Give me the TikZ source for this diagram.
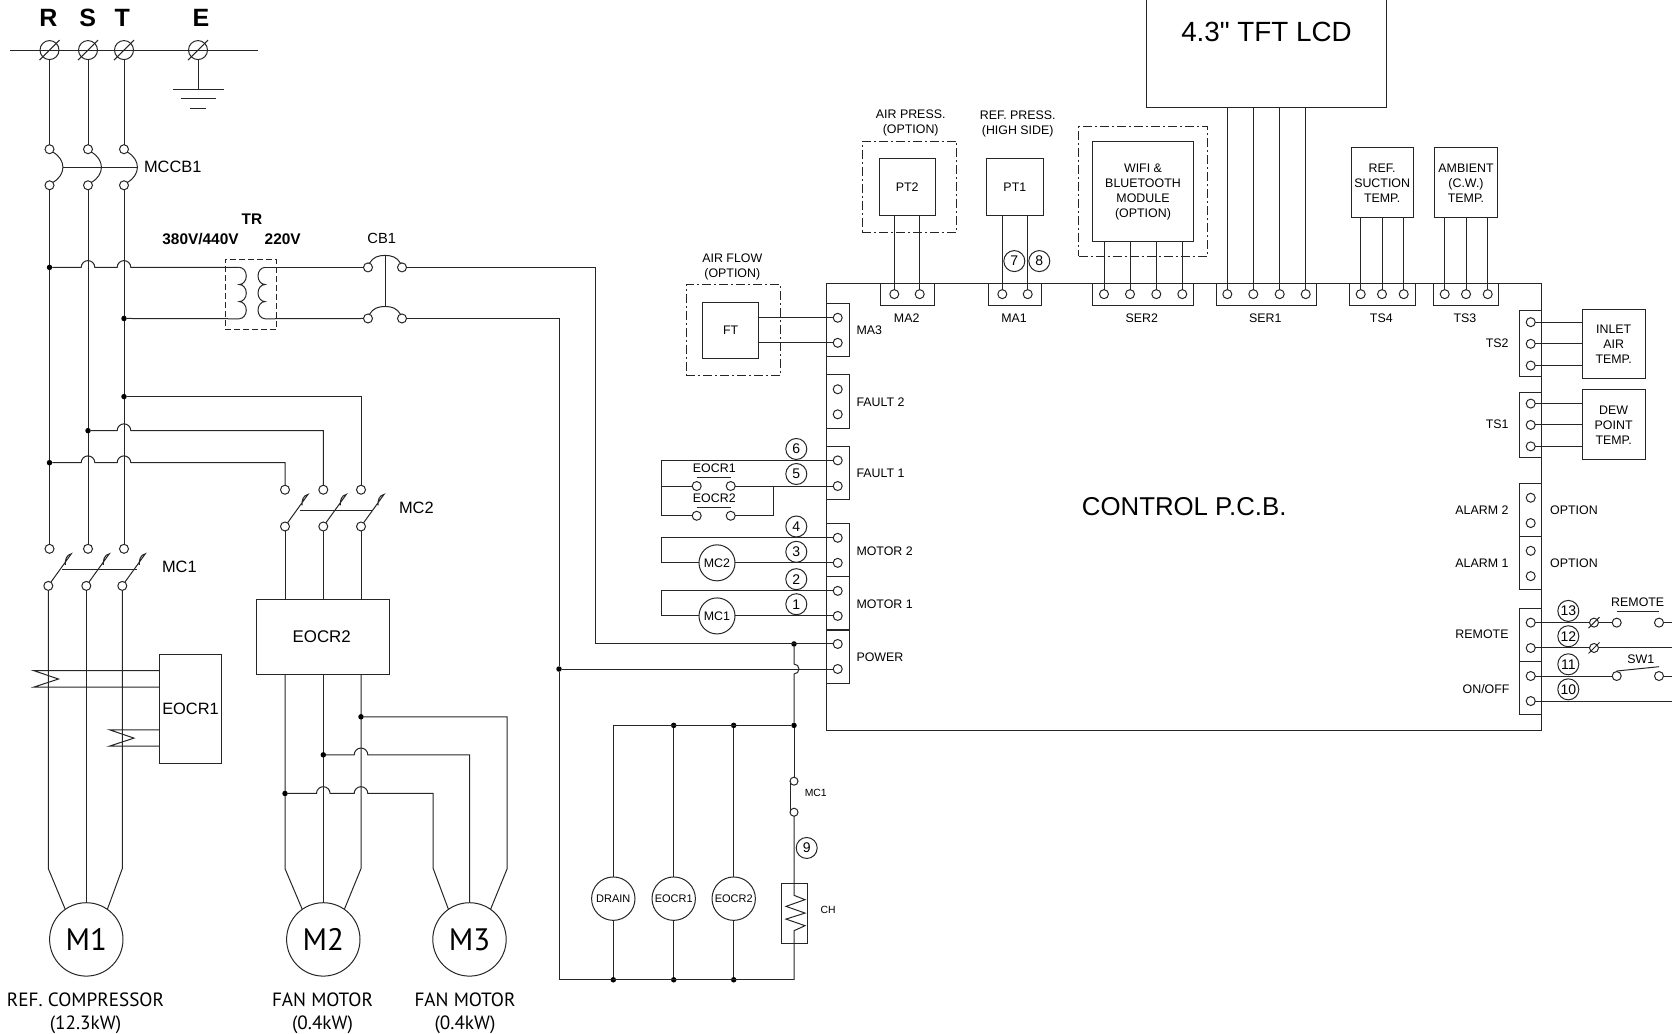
\documentclass[tikz,border=0pt]{standalone}
\usepackage{fontspec}
\setmainfont{Liberation Sans}
\newfontfamily\motorfont{PT Sans}
\newfontfamily\lcdfont{Liberation Sans}
\usepackage{tikz}
\usetikzlibrary{calc}
\newcommand{\hopover}[2]{-- ([xshift=-6.8pt]#1 |- #2) arc[start angle=180,end angle=0,radius=6.8pt]}
\newcommand{\slashat}[2]{\draw ([shift={(-#2,#2)}]#1.center) -- ([shift={(#2,-#2)}]#1.center);}
\newcommand{\blade}[1]{\draw (#1.55) -- ([shift={(23,-32)}]#1.center) to[out=190,in=95] ([shift={(17,-21)}]#1.center);}

\begin{document}
\begin{tikzpicture}[
    x=1pt, y=-1.0015pt, line width=1pt, draw=black!85,
    lab/.style={inner sep=0, align=center, font=\fontsize{12.4}{15}\selectfont},
    tag/.style={lab, yshift=-0.7pt},
    biglab/.style={inner sep=0, font=\fontsize{16.4}{18}\selectfont},
    smalllab/.style={inner sep=0, font=\fontsize{10.4}{12}\selectfont},
    boldlab/.style={inner sep=0, font=\fontsize{15.4}{18}\selectfont\bfseries},
    phase/.style={inner sep=0, font=\fontsize{25}{28}\selectfont\bfseries},
    motorlab/.style={inner sep=0, align=center, font=\motorfont\fontsize{19.2}{23.4}\selectfont},
    box/.style={rectangle, draw, inner sep=0, outer sep=0, align=center},
    optbox/.style={box, dash pattern=on 9pt off 3pt on 2pt off 3pt},
    block/.style={box, minimum width=22.4pt, minimum height=53.2pt},
    topblock/.style={box, minimum height=22.3pt},
    term/.style={circle, draw, inner sep=0, outer sep=0, minimum size=9pt},
    mainterm/.style={circle, draw, inner sep=0, outer sep=0, minimum size=19pt},
    dot/.style={circle, fill=black, inner sep=0, outer sep=0, minimum size=5.5pt},
    num/.style={circle, draw, inner sep=0, outer sep=0, minimum size=21pt, font=\fontsize{14}{14}\selectfont},
    coil/.style={circle, draw, inner sep=0, outer sep=0, minimum size=36pt, font=\fontsize{12.4}{14}\selectfont},
    aux/.style={circle, draw, inner sep=0, outer sep=0, minimum size=43.4pt, font=\fontsize{11}{13}\selectfont},
    motor/.style={circle, draw, inner sep=0, outer sep=0, minimum size=73.4pt, font=\motorfont\fontsize{31}{33}\selectfont}
]
    \useasboundingbox (0,0) rectangle (1672,1032.45);

    % Supply
    \node[phase] (labR) at (48.3,18.3) {R};
    \node[phase] (labS) at (87.7,18.3) {S};
    \node[phase] (labT) at (122.3,18.3) {T};
    \node[phase] (labE) at (201,18.3) {E};
    \coordinate (busL) at (10,50);
    \coordinate (busR) at (258,50);
    \node[mainterm] (tR) at (49.5,50) {};
    \node[mainterm] (tS) at (88,50) {};
    \node[mainterm] (tT) at (124,50) {};
    \node[mainterm] (tE) at (198,50) {};
    \draw (busL) -- (busR);
    \slashat{tR}{10} \slashat{tS}{10} \slashat{tT}{10} \slashat{tE}{10}
    \coordinate (gndA) at (198,89);
    \coordinate (gndB) at (198,98.5);
    \coordinate (gndC) at (198,108);
    \draw (tE) -- (gndA);
    \draw ([xshift=-25.5pt]gndA) -- ([xshift=25.5pt]gndA);
    \draw ([xshift=-17.5pt]gndB) -- ([xshift=17.5pt]gndB);
    \draw ([xshift=-8pt]gndC) -- ([xshift=8pt]gndC);

    % MCCB1
    \node[term] (mccbRu) at (49.5,149) {};
    \node[term] (mccbSu) at (88,149) {};
    \node[term] (mccbTu) at (124,149) {};
    \node[term] (mccbRl) at (49.5,185) {};
    \node[term] (mccbSl) at (88,185) {};
    \node[term] (mccbTl) at (124,185) {};
    \coordinate (mccbA) at (62.5,167);
    \coordinate (mccbB) at (137,167);
    \node[biglab, anchor=west] (labMCCB) at (143.5,166.7) {MCCB1};
    \draw (tR) -- (mccbRu);
    \draw (tS) -- (mccbSu);
    \draw (tT) -- (mccbTu);
    \draw (mccbRu.-40) to[out=-30,in=30,looseness=1.3] (mccbRl.40);
    \draw (mccbSu.-40) to[out=-30,in=30,looseness=1.3] (mccbSl.40);
    \draw (mccbTu.-40) to[out=-30,in=30,looseness=1.3] (mccbTl.40);
    \draw (mccbA) -- (mccbB);

    % MC1
    \node[term] (mc1Ru) at (49.5,548) {};
    \node[term] (mc1Su) at (88,548) {};
    \node[term] (mc1Tu) at (124,548) {};
    \node[term] (mc1Rl) at (48.3,585) {};
    \node[term] (mc1Sl) at (86.3,585) {};
    \node[term] (mc1Tl) at (122.3,585) {};
    \coordinate (mc1A) at (62,569);
    \coordinate (mc1B) at (137,569);
    \node[biglab, anchor=west] (labMC1) at (161.5,566) {MC1};
    \draw (mccbRl) -- (mc1Ru);
    \draw (mccbSl) -- (mc1Su);
    \draw (mccbTl) -- (mc1Tu);
    \blade{mc1Rl} \blade{mc1Sl} \blade{mc1Tl}
    \draw (mc1A) -- (mc1B);

    % Transformer and CB1
    \node[dot] (jA) at (49.5,267) {};
    \node[dot] (jB) at (124,318) {};
    \node[boldlab] (labTR) at (252,219) {TR};
    \node[boldlab] (labHV) at (200.5,238.7) {380V/440V};
    \node[boldlab] (labLV) at (282.7,238.7) {220V};
    \node[box, dash pattern=on 6pt off 3pt, minimum width=51.5pt, minimum height=70pt] (trafo) at (250.75,294) {};
    \coordinate (coilA) at (239.3,267);
    \coordinate (coilB) at (239.3,318.3);
    \coordinate (coilC) at (265,267);
    \coordinate (coilD) at (265,318.3);
    \draw (jA) \hopover{tS}{jA} \hopover{tT}{jA} -- (coilA);
    \draw (jB) -- (coilB);
    \draw (coilA) arc[start angle=90,end angle=-90,x radius=7pt,y radius=8.55pt]
        arc[start angle=90,end angle=-90,x radius=7pt,y radius=8.55pt]
        arc[start angle=90,end angle=-90,x radius=7pt,y radius=8.55pt];
    \draw (coilC) arc[start angle=90,end angle=270,x radius=7pt,y radius=8.55pt]
        arc[start angle=90,end angle=270,x radius=7pt,y radius=8.55pt]
        arc[start angle=90,end angle=270,x radius=7pt,y radius=8.55pt];
    \node[term] (cbAl) at (368,267) {};
    \node[term] (cbAr) at (402,267) {};
    \node[term] (cbBl) at (368,318) {};
    \node[term] (cbBr) at (402,318) {};
    \coordinate (cbTop) at (385,255);
    \coordinate (cbBot) at (385,306);
    \node[lab, font=\fontsize{14.7}{16}\selectfont] (labCB) at (381.7,238.4) {CB1};
    \draw (coilC) -- (cbAl);
    \draw (coilD) -- (cbBl);
    \draw (cbAl.70) to[out=60,in=180] (cbTop) to[out=0,in=120] (cbAr.110);
    \draw (cbBl.70) to[out=60,in=180] (cbBot) to[out=0,in=120] (cbBr.110);
    \draw (cbTop) -- (cbBot);

    % MC2 and EOCR2
    \node[term] (mc2Ru) at (285,489) {};
    \node[term] (mc2Su) at (323.3,489) {};
    \node[term] (mc2Tu) at (361,489) {};
    \node[term] (mc2Rl) at (285,525.7) {};
    \node[term] (mc2Sl) at (323.3,525.7) {};
    \node[term] (mc2Tl) at (361,525.7) {};
    \coordinate (mc2A) at (300,509.7);
    \coordinate (mc2B) at (373,509.7);
    \node[biglab, anchor=west] (labMC2) at (398.5,507) {MC2};
    \node[box, biglab, font=\fontsize{16.9}{18}\selectfont, draw, minimum width=133pt, minimum height=75.3pt] (EOCRb) at (323.2,635.7) {\raisebox{-2.6pt}{\hspace*{-3pt}EOCR2}};
    \node[dot] (jD) at (124,396) {};
    \node[dot] (jE) at (88,430) {};
    \node[dot] (jF) at (49.5,462) {};
    \draw (jD) -| (mc2Tu);
    \draw (jE) \hopover{tT}{jE} -| (mc2Su);
    \draw (jF) \hopover{tS}{jF} \hopover{tT}{jF} -| (mc2Ru);
    \blade{mc2Rl} \blade{mc2Sl} \blade{mc2Tl}
    \draw (mc2A) -- (mc2B);
    \draw (mc2Rl) -- (mc2Rl |- EOCRb.north);
    \draw (mc2Sl) -- (mc2Sl |- EOCRb.north);
    \draw (mc2Tl) -- (mc2Tl |- EOCRb.north);

    % EOCR1
    \node[box, biglab, draw, minimum width=62.4pt, minimum height=108.7pt] (EOCRa) at (190.5,707.7) {EOCR1};
    \coordinate (ctAa) at (34,669.7);
    \coordinate (ctAb) at (58.5,678);
    \coordinate (ctAc) at (34,686);
    \coordinate (ctBa) at (109.5,728.7);
    \coordinate (ctBb) at (134,737);
    \coordinate (ctBc) at (109.5,745);
    \draw (EOCRa.west |- ctAa) -- (ctAa) -- (ctAb) -- (ctAc) -- (EOCRa.west |- ctAc);
    \draw (EOCRa.west |- ctBa) -- (ctBa) -- (ctBb) -- (ctBc) -- (EOCRa.west |- ctBc);

    % Motors
    \node[motor] (Mone) at (86.3,938) {M1};
    \node[motor] (Mtwo) at (323.3,938) {M2};
    \node[motor] (Mthree) at (469.5,938) {M3};
    \node[motorlab] (capA) at (85.5,1012) {REF. COMPRESSOR\\(12.3kW)};
    \node[motorlab] (capB) at (322.5,1012) {FAN MOTOR\\(0.4kW)};
    \node[motorlab] (capC) at (465,1012) {FAN MOTOR\\(0.4kW)};
    \coordinate (moneL) at (48.3,867.3);
    \coordinate (moneR) at (122.3,867.3);
    \coordinate (mtwoL) at (285,867.3);
    \coordinate (mtwoR) at (361,867.3);
    \coordinate (mthreeL) at (433.2,867.3);
    \coordinate (mthreeR) at (507.2,867.3);
    \draw (mc1Rl) -- (moneL) -- (Mone.125);
    \draw (mc1Sl) -- (Mone);
    \draw (mc1Tl) -- (moneR) -- (Mone.55);
    \draw (mc2Rl |- EOCRb.south) -- (mtwoL) -- (Mtwo.125);
    \draw (mc2Sl |- EOCRb.south) -- (Mtwo);
    \draw (mc2Tl |- EOCRb.south) -- (mtwoR) -- (Mtwo.55);
    \node[dot] (jG) at (361,715.7) {};
    \node[dot] (jH) at (323.3,753.7) {};
    \node[dot] (jI) at (285,792.3) {};
    \draw (jG) -| (mthreeR) -- (Mthree.55);
    \draw (jH) \hopover{mc2Tl}{jH} -| (Mthree);
    \draw (jI) \hopover{mc2Sl}{jI} \hopover{mc2Tl}{jI} -| (mthreeL) -- (Mthree.125);

    % Control board
    \node[box, minimum width=715pt, minimum height=447pt, font=\fontsize{25.8}{28}\selectfont] (pcb) at (1184.2,506.2) {CONTROL P.C.B.};
    \node[box, minimum width=240.4pt, minimum height=151pt, font=\lcdfont\fontsize{27.8}{30}\selectfont] (lcd) at (1266.5,31.5) {4.3" TFT LCD};

    % Left connectors
    \node[block] (MAc) at (837.85,329.35) {};
    \node[block] (faultB) at (837.85,400.8) {};
    \node[block] (faultA) at (837.85,472.2) {};
    \node[block] (motorB) at (837.85,549.2) {};
    \node[block] (motorA) at (837.85,602.35) {};
    \node[block] (power) at (837.85,655.65) {};
    \node[tag, anchor=west] (labMAc) at (856,329) {MA3};
    \node[tag, anchor=west] (labFaultB) at (856,400.7) {FAULT 2};
    \node[tag, anchor=west] (labFaultA) at (856,472) {FAULT 1};
    \node[tag, anchor=west] (labMotorB) at (856,549.7) {MOTOR 2};
    \node[tag, anchor=west] (labMotorA) at (856,602.3) {MOTOR 1};
    \node[tag, anchor=west] (labPower) at (856,655.7) {POWER};
    \node[term] (tMAca) at (837.7,317.3) {};
    \node[term] (tMAcb) at (837.7,342.3) {};
    \node[term] (tFaultBa) at (837.7,388.7) {};
    \node[term] (tFaultBb) at (837.7,413.7) {};
    \node[term] (tFaultAa) at (837.7,459.7) {};
    \node[term] (tFaultAb) at (837.7,485.3) {};
    \node[term] (tMotorBa) at (837.7,537) {};
    \node[term] (tMotorBb) at (837.7,562) {};
    \node[term] (tMotorAa) at (837.7,590) {};
    \node[term] (tMotorAb) at (837.7,615) {};
    \node[term] (tPowerA) at (837.7,643) {};
    \node[term] (tPowerB) at (837.7,668) {};

    % Air flow
    \node[optbox, minimum width=94pt, minimum height=91.6pt] (ftOpt) at (733,329.5) {};
    \node[box, lab, draw, minimum width=56pt, minimum height=56pt] (FT) at (730.7,329.7) {FT};
    \node[lab] (labFT) at (732.3,266.7) {AIR FLOW\\(OPTION)};
    \draw (FT.east |- tMAca) -- (tMAca);
    \draw (FT.east |- tMAcb) -- (tMAcb);

    % Fault loop
    \node[num] (nSix) at (796.3,448.3) {6};
    \node[num] (nFive) at (796.3,473.3) {5};
    \node[term] (cEaL) at (696.7,485.3) {};
    \node[term] (cEaR) at (730.7,485.3) {};
    \node[term] (cEbL) at (696.7,515) {};
    \node[term] (cEbR) at (730.7,515) {};
    \node[lab] (labEa) at (714.3,468) {EOCR1};
    \node[lab] (labEb) at (714.3,497.7) {EOCR2};
    \coordinate (faultC) at (661.7,515);
    \coordinate (faultD) at (773.7,485.3);
    \draw (tFaultAa) -| (faultC) -- (cEbL);
    \draw (faultC |- tFaultAb) -- (cEaL);
    \draw (cEaR) -- (tFaultAb);
    \draw (cEbR) -| (faultD);
    \draw (cEaL.north |- 0,476.3) -- (cEaR.north |- 0,476.3);
    \draw (cEbL.north |- 0,506.3) -- (cEbR.north |- 0,506.3);

    % Motor contactor coils
    \node[num] (nFour) at (796.3,525.7) {4};
    \node[num] (nThree) at (796.3,551) {3};
    \node[num] (nTwo) at (796.3,578.3) {2};
    \node[num] (nOne) at (796.3,603.3) {1};
    \node[coil] (coilMCb) at (717,562) {MC2};
    \node[coil] (coilMCa) at (717,615) {MC1};
    \coordinate (motorC) at (661.7,562);
    \coordinate (motorD) at (661.7,615);
    \draw (tMotorBa) -| (motorC) -- (coilMCb);
    \draw (coilMCb) -- (tMotorBb);
    \draw (tMotorAa) -| (motorD) -- (coilMCa);
    \draw (coilMCa) -- (tMotorAb);

    % Power feed
    \coordinate (pwrC) at (595.6,643);
    \node[dot] (jPa) at (794,643) {};
    \node[dot] (jPb) at (559,668) {};
    \node[dot] (jBus) at (794,724.3) {};
    \draw (cbAr) -| (pwrC) -- (tPowerA);
    \draw (cbBr) -| (jPb) -- (tPowerB);
    \draw (jPa) -- ([yshift=5pt]jPa |- tPowerB) arc[start angle=90,end angle=-90,radius=5pt] -- (jBus);

    % Auxiliary circuit
    \coordinate (auxC) at (613.3,724.3);
    \coordinate (botR) at (794,978.3);
    \node[dot] (jBa) at (673.7,724.3) {};
    \node[dot] (jBb) at (733.7,724.3) {};
    \node[dot] (jLa) at (613.3,978.3) {};
    \node[dot] (jLb) at (673.7,978.3) {};
    \node[dot] (jLc) at (733.7,978.3) {};
    \node[aux] (drain) at (613.3,897.3) {DRAIN};
    \node[aux] (auxA) at (673.7,897.3) {EOCR1};
    \node[aux] (auxB) at (733.7,897.3) {EOCR2};
    \node[term, minimum size=8pt] (cMCu) at (794,780) {};
    \node[term, minimum size=8pt] (cMCl) at (794,811) {};
    \node[smalllab, anchor=west] (labMCc) at (804.3,792) {MC1};
    \node[num] (nNine) at (806.7,846.7) {9};
    \node[box, minimum width=26.3pt, minimum height=60.6pt] (CH) at (794.15,912) {};
    \node[smalllab, anchor=west] (labCH) at (820,909) {CH};
    \coordinate (chA) at (794,894);
    \coordinate (chB) at (805,898.3);
    \coordinate (chC) at (786,905);
    \coordinate (chD) at (805,911.7);
    \coordinate (chE) at (786,917.7);
    \coordinate (chF) at (805,924.3);
    \coordinate (chG) at (794,929.3);
    \draw (jBus) -- (auxC) -- (drain);
    \draw (jBa) -- (auxA);
    \draw (jBb) -- (auxB);
    \draw (drain) -- (jLa);
    \draw (auxA) -- (jLb);
    \draw (auxB) -- (jLc);
    \draw (jPb) |- (botR);
    \draw (jBus) -- (cMCu);
    \draw (cMCu.west) -- (cMCl.west);
    \draw (cMCl) -- (chA) -- (chB) -- (chC) -- (chD) -- (chE) -- (chF) -- (chG) -- (botR);

    % Top sensors
    \node[topblock, minimum width=53.3pt] (MAb) at (907.35,293.85) {};
    \node[topblock, minimum width=53.4pt] (MAa) at (1015,293.85) {};
    \node[topblock, minimum width=101pt] (SERb) at (1142.8,293.85) {};
    \node[topblock, minimum width=100.4pt] (SERa) at (1266.5,293.85) {};
    \node[topblock, minimum width=65.6pt] (TSd) at (1382.5,293.85) {};
    \node[topblock, minimum width=65.4pt] (TSc) at (1466,293.85) {};
    \node[tag] (labMAb) at (906.7,317.2) {MA2};
    \node[tag] (labMAa) at (1014,317.2) {MA1};
    \node[tag] (labSERb) at (1141.7,317.2) {SER2};
    \node[tag] (labSERa) at (1265.3,317.2) {SER1};
    \node[tag] (labTSd) at (1381.3,317.2) {TS4};
    \node[tag] (labTSc) at (1465,317.2) {TS3};
    \node[term] (tMAba) at (894.3,293.7) {};
    \node[term] (tMAbb) at (919.7,293.7) {};
    \node[term] (tMAaa) at (1002.3,293.7) {};
    \node[term] (tMAab) at (1027.7,293.7) {};
    \node[term] (tSbA) at (1104,293.7) {};
    \node[term] (tSbB) at (1130,293.7) {};
    \node[term] (tSbC) at (1156.3,293.7) {};
    \node[term] (tSbD) at (1182.3,293.7) {};
    \node[term] (tSaA) at (1227.3,293.7) {};
    \node[term] (tSaB) at (1253.3,293.7) {};
    \node[term] (tSaC) at (1279.7,293.7) {};
    \node[term] (tSaD) at (1305.7,293.7) {};
    \node[term] (tTdA) at (1360.7,293.7) {};
    \node[term] (tTdB) at (1382,293.7) {};
    \node[term] (tTdC) at (1403.7,293.7) {};
    \node[term] (tTcA) at (1444.7,293.7) {};
    \node[term] (tTcB) at (1466,293.7) {};
    \node[term] (tTcC) at (1487.7,293.7) {};
    \node[optbox, minimum width=94.4pt, minimum height=91.7pt] (ptbOpt) at (909.5,186.85) {};
    \node[box, lab, draw, minimum width=56.3pt, minimum height=56.3pt] (PTb) at (907.15,186.85) {PT2};
    \node[lab] (labPTb) at (910.7,123) {AIR PRESS.\\(OPTION)};
    \node[box, lab, draw, minimum width=56.3pt, minimum height=56.3pt] (PTa) at (1014.85,186.85) {PT1};
    \node[lab] (labPTa) at (1017.7,123.6) {REF. PRESS.\\(HIGH SIDE)};
    \node[num] (nSeven) at (1014.3,260.7) {7};
    \node[num] (nEight) at (1039.3,260.7) {8};
    \node[optbox, minimum width=129pt, minimum height=129.3pt] (wifiOpt) at (1143.2,191.35) {};
    \node[box, lab, draw, minimum width=101.4pt, minimum height=100.7pt] (wifi) at (1143,191.35) {WIFI \&\\BLUETOOTH\\MODULE\\(OPTION)};
    \node[box, lab, draw, minimum width=62.3pt, minimum height=69.6pt] (tSuction) at (1382.15,182.5) {REF.\\SUCTION\\TEMP.};
    \node[box, lab, draw, minimum width=62.6pt, minimum height=69.6pt] (tAmbient) at (1466,182.5) {AMBIENT\\(C.W.)\\TEMP.};
    \draw (tMAba |- PTb.south) -- (tMAba);
    \draw (tMAbb |- PTb.south) -- (tMAbb);
    \draw (tMAaa |- PTa.south) -- (tMAaa);
    \draw (tMAab |- PTa.south) -- (tMAab);
    \draw (tSbA |- wifi.south) -- (tSbA);
    \draw (tSbB |- wifi.south) -- (tSbB);
    \draw (tSbC |- wifi.south) -- (tSbC);
    \draw (tSbD |- wifi.south) -- (tSbD);
    \draw (tSaA |- lcd.south) -- (tSaA);
    \draw (tSaB |- lcd.south) -- (tSaB);
    \draw (tSaC |- lcd.south) -- (tSaC);
    \draw (tSaD |- lcd.south) -- (tSaD);
    \draw (tTdA |- tSuction.south) -- (tTdA);
    \draw (tTdB |- tSuction.south) -- (tTdB);
    \draw (tTdC |- tSuction.south) -- (tTdC);
    \draw (tTcA |- tAmbient.south) -- (tTcA);
    \draw (tTcB |- tAmbient.south) -- (tTcB);
    \draw (tTcC |- tAmbient.south) -- (tTcC);

    % Right connectors
    \node[block, minimum height=65.7pt] (TSb) at (1530.5,343.15) {};
    \node[block, minimum height=65.3pt] (TSa) at (1530.5,424.35) {};
    \node[block] (alarmB) at (1530.5,509.35) {};
    \node[block] (alarmA) at (1530.5,562.5) {};
    \node[block] (remote) at (1530.5,634.2) {};
    \node[block] (onoff) at (1530.5,687.35) {};
    \node[tag, anchor=east] (labTSb) at (1509,342.2) {TS2};
    \node[tag, anchor=east] (labTSa) at (1509,423.2) {TS1};
    \node[tag, anchor=east] (labAlarmB) at (1509,509) {ALARM 2};
    \node[tag, anchor=east] (labAlarmA) at (1509,562) {ALARM 1};
    \node[tag, anchor=east] (labRemote) at (1509,633) {REMOTE};
    \node[tag, anchor=east] (labOnoff) at (1510,687) {ON/OFF};
    \node[tag, anchor=west] (optB) at (1549.7,509) {OPTION};
    \node[tag, anchor=west] (optA) at (1549.7,562) {OPTION};
    \node[term] (tTSbA) at (1530.7,321.7) {};
    \node[term] (tTSbB) at (1530.7,343.3) {};
    \node[term] (tTSbC) at (1530.7,365) {};
    \node[term] (tTSaA) at (1530.7,403) {};
    \node[term] (tTSaB) at (1530.7,424.3) {};
    \node[term] (tTSaC) at (1530.7,445.7) {};
    \node[term] (tAlarmBa) at (1530.7,497) {};
    \node[term] (tAlarmBb) at (1530.7,522.3) {};
    \node[term] (tAlarmAa) at (1530.7,550) {};
    \node[term] (tAlarmAb) at (1530.7,575.3) {};
    \node[term] (tRemoteA) at (1530.7,621.7) {};
    \node[term] (tRemoteB) at (1530.7,647) {};
    \node[term] (tOnoffA) at (1530.7,675) {};
    \node[term] (tOnoffB) at (1530.7,700) {};
    \node[box, lab, draw, minimum width=62.7pt, minimum height=69.6pt] (inlet) at (1613.65,343.5) {INLET\\AIR\\TEMP.};
    \node[box, lab, draw, minimum width=62.7pt, minimum height=70pt] (dew) at (1613.65,424.3) {DEW\\POINT\\TEMP.};
    \draw (tTSbA) -- (inlet.west |- tTSbA);
    \draw (tTSbB) -- (inlet.west |- tTSbB);
    \draw (tTSbC) -- (inlet.west |- tTSbC);
    \draw (tTSaA) -- (dew.west |- tTSaA);
    \draw (tTSaB) -- (dew.west |- tTSaB);
    \draw (tTSaC) -- (dew.west |- tTSaC);

    % Remote and switch
    \coordinate (edge) at (1672,0);
    \node[num] (nThirteen) at (1568.3,610) {13};
    \node[num] (nTwelve) at (1568.3,635.3) {12};
    \node[num] (nEleven) at (1568.3,663.3) {11};
    \node[num] (nTen) at (1568.3,688.3) {10};
    \node[term] (sA) at (1594,621.7) {};
    \node[term] (sB) at (1594,647) {};
    \node[term] (rmL) at (1616.7,621.7) {};
    \node[term] (rmR) at (1659,621.7) {};
    \node[term] (swL) at (1616.7,675) {};
    \node[term] (swR) at (1659,675) {};
    \node[lab] (labRm) at (1637.7,601.7) {REMOTE};
    \node[lab] (labSw) at (1640.7,658.7) {SW1};
    \coordinate (rmBarL) at (1616.7,610.7);
    \coordinate (rmBarR) at (1659,610.7);
    \coordinate (swBarL) at (1616.7,670);
    \coordinate (swBarR) at (1659,665.7);
    \slashat{sA}{5.5} \slashat{sB}{5.5}
    \draw (tRemoteA) -- (sA) -- (rmL);
    \draw (rmR) -- (edge |- rmR);
    \draw (tRemoteB) -- (sB) -- (edge |- sB);
    \draw (rmBarL) -- (rmBarR);
    \draw (tOnoffA) -- (swL);
    \draw (swR) -- (edge |- swR);
    \draw (swBarL) -- (swBarR);
    \draw (tOnoffB) -- (edge |- tOnoffB);
\end{tikzpicture}
\end{document}
